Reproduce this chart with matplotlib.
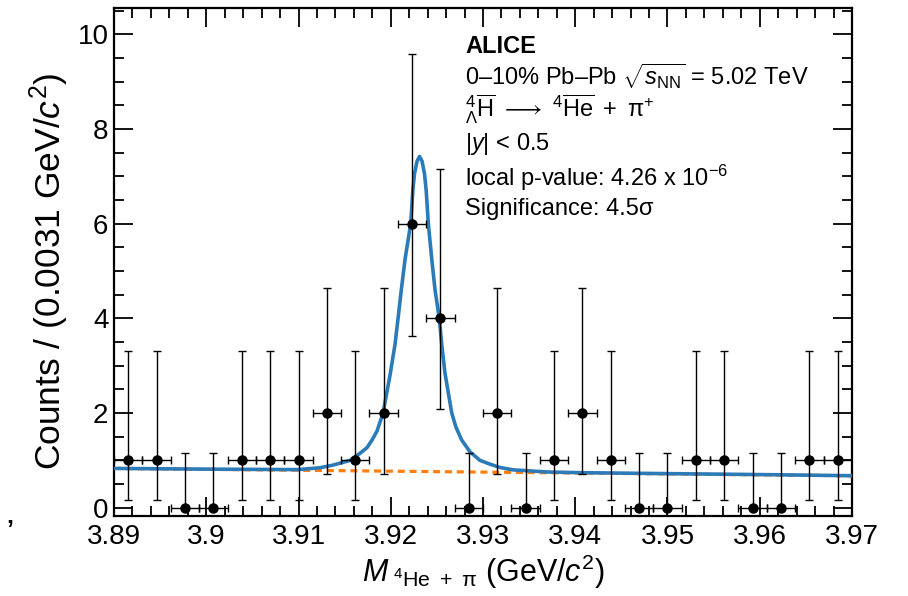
import numpy as np
import matplotlib
matplotlib.use("Agg")
import matplotlib.pyplot as plt
from matplotlib.ticker import MultipleLocator

plt.rcParams['font.family'] = ['Liberation Sans', 'DejaVu Sans']
plt.rcParams['mathtext.fontset'] = 'custom'
plt.rcParams['mathtext.rm'] = 'Liberation Sans'
plt.rcParams['mathtext.it'] = 'Liberation Sans:italic'
plt.rcParams['mathtext.bf'] = 'Liberation Sans:bold'

# dane: środki binów, zliczenia i asymetryczne niepewności
bin_centers = [3.89154, 3.89462, 3.89769, 3.90077, 3.90385, 3.90692, 3.91000,
               3.91308, 3.91615, 3.91923, 3.92231, 3.92538, 3.92846, 3.93154,
               3.93462, 3.93769, 3.94077, 3.94385, 3.94692, 3.95000, 3.95308,
               3.95615, 3.95923, 3.96231, 3.96538, 3.96846]
counts = [1, 1, 0, 0, 1, 1, 1, 2, 1, 2, 6, 4, 0, 2, 0, 1, 2, 1, 0, 0, 1, 1, 0, 0, 1, 1]
err_low = [0.83, 0.83, 0.0, 0.0, 0.83, 0.83, 0.83, 1.29, 0.83, 1.29, 2.38, 1.91, 0.0,
           1.29, 0.0, 0.83, 1.29, 0.83, 0.0, 0.0, 0.83, 0.83, 0.0, 0.0, 0.83, 0.83]
err_high = [2.30, 2.30, 1.15, 1.15, 2.30, 2.30, 2.30, 2.64, 2.30, 2.64, 3.58, 3.16, 1.15,
            2.64, 1.15, 2.30, 2.64, 2.30, 1.15, 1.15, 2.30, 2.30, 1.15, 1.15, 2.30, 2.30]
bin_half_width = 0.00154

# dopasowanie (sygnał + tło)
fit_x = [3.8900, 3.9000, 3.90995, 3.91233, 3.91374, 3.91558, 3.91667, 3.91743,
         3.91797, 3.91851, 3.91916, 3.91992, 3.92046, 3.92079, 3.92111, 3.92155,
         3.92216, 3.92239, 3.92257, 3.92285, 3.92312, 3.92339, 3.92366, 3.92384,
         3.92407, 3.92447, 3.92480, 3.92526, 3.92555, 3.92588, 3.92661, 3.92707,
         3.92769, 3.92859, 3.92967, 3.93076, 3.93184, 3.93325, 3.93694, 3.94051,
         3.95005, 3.96003, 3.9700]
fit_y = [0.83, 0.815, 0.805, 0.845, 0.90, 1.00, 1.15, 1.27,
         1.43, 1.62, 2.0, 2.8, 3.45, 4.0, 4.55, 5.25,
         6.0, 6.7, 7.05, 7.32, 7.42, 7.32, 7.05, 6.7,
         6.0, 5.2, 4.6, 4.0, 3.4, 2.84, 2.0, 1.7,
         1.43, 1.18, 1.0, 0.92, 0.85, 0.80, 0.755, 0.74,
         0.72, 0.70, 0.676]
bkg_x = [3.89, 3.97]
bkg_y = [0.83, 0.675]

fig = plt.figure(figsize=(9.08, 5.96), dpi=100)
ax = fig.add_axes([0.1256, 0.1347, 0.8127, 0.8519])

ax.plot(bkg_x, bkg_y, '--', color='#ff7f0e', lw=2.3, dashes=(2.2, 1.5), zorder=2)
ax.plot(fit_x, fit_y, '-', color='#2b7bb9', lw=2.6, zorder=3)
ax.errorbar(bin_centers, counts, yerr=[err_low, err_high], xerr=bin_half_width,
            fmt='o', color='black', ms=6.5, elinewidth=1.0, capsize=2.8,
            capthick=1.0, zorder=4)

ax.set_xlim(3.89, 3.97)
ax.set_ylim(-0.169, 10.556)
ax.xaxis.set_major_locator(MultipleLocator(0.01))
ax.xaxis.set_minor_locator(MultipleLocator(0.002))
ax.yaxis.set_major_locator(MultipleLocator(2))
ax.yaxis.set_minor_locator(MultipleLocator(0.5))
ax.set_xticks([3.89, 3.90, 3.91, 3.92, 3.93, 3.94, 3.95, 3.96, 3.97])
ax.set_xticklabels(['3.89', '3.9', '3.91', '3.92', '3.93', '3.94', '3.95', '3.96', '3.97'])
ax.tick_params(which='both', direction='in', top=True, right=True, width=1.3)
ax.tick_params(which='major', length=14, labelsize=20, pad=4)
ax.tick_params(which='minor', length=7)
ax.tick_params(axis='x', which='major', pad=6)
for s in ax.spines.values():
    s.set_linewidth(1.6)

ax.set_xlabel(r'$M_{\ {}^{4}\mathrm{He}\ +\ \mathrm{π}}$ (GeV/$c^{2}$)', fontsize=22, labelpad=2)
ax.set_ylabel(r'Counts / (0.0031 GeV/$c^{2}$)', fontsize=25.5)
ax.yaxis.set_label_coords(-0.058, 0.482)

tx = 0.4756
ax.text(tx, 0.9108, 'ALICE', fontsize=17, fontweight='bold', transform=ax.transAxes, va='baseline')
ax.text(tx, 0.8484, r'0–10% Pb–Pb $\sqrt{s_{\mathrm{NN}}}$ = 5.02 TeV', fontsize=17,
        transform=ax.transAxes, va='baseline')
ax.text(tx, 0.7839, r'${}^{4}_{\Lambda}\overline{\mathrm{H}}\ \longrightarrow\ {}^{4}\overline{\mathrm{He}}\ +\ \mathrm{π}^{+}$',
        fontsize=17, transform=ax.transAxes, va='baseline')
ax.text(tx, 0.7203, r'|$y$| < 0.5', fontsize=17, transform=ax.transAxes, va='baseline')
ax.text(tx, 0.6501, r'local p-value: 4.26 x 10$^{-6}$', fontsize=17, transform=ax.transAxes, va='baseline')
ax.text(tx, 0.5921, 'Significance: 4.5σ', fontsize=17, transform=ax.transAxes, va='baseline')

fig.text(0.007, 0.097, '\u02bc', fontsize=18, fontweight='bold')

fig.savefig('out.png', dpi=100)
